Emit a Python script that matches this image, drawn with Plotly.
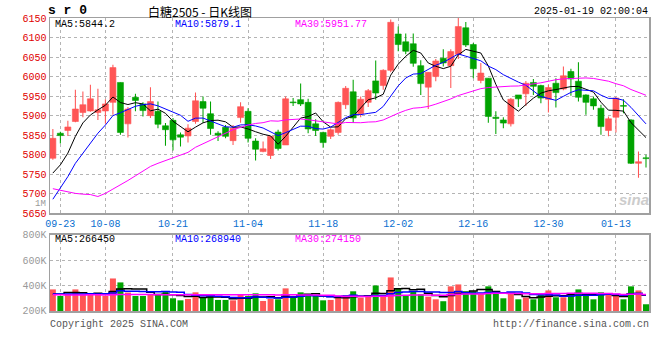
import plotly.graph_objects as go
import pandas as pd

# ---------------- data ----------------
dates = ["09-20", "09-23", "09-24", "09-25", "09-26", "09-27", "09-30",
         "10-08", "10-09", "10-10", "10-11",
         "10-14", "10-15", "10-16", "10-17", "10-18",
         "10-21", "10-22", "10-23", "10-24", "10-25",
         "10-28", "10-29", "10-30", "10-31", "11-01",
         "11-04", "11-05", "11-06", "11-07", "11-08",
         "11-11", "11-12", "11-13", "11-14", "11-15",
         "11-18", "11-19", "11-20", "11-21", "11-22",
         "11-25", "11-26", "11-27", "11-28", "11-29",
         "12-02", "12-03", "12-04", "12-05", "12-06",
         "12-09", "12-10", "12-11", "12-12", "12-13",
         "12-16", "12-17", "12-18", "12-19", "12-20",
         "12-23", "12-24", "12-25", "12-26", "12-27",
         "12-30", "12-31", "01-02", "01-03",
         "01-06", "01-07", "01-08", "01-09", "01-10",
         "01-13", "01-14", "01-15", "01-16", "01-17"]

open_ = [5791, 5855, 5862, 5885, 5908, 5912, 5908, 5912, 5934, 5985,
         5879, 5947, 5930, 5900, 5911, 5874, 5888, 5851, 5848, 5885,
         5936, 5905, 5855, 5870, 5836, 5895, 5911, 5835, 5808, 5798,
         5858, 5825, 5935, 5941, 5934, 5879, 5857, 5847, 5857, 5928,
         5961, 5905, 5934, 5989, 5977, 6016, 6109, 6089, 6084, 6028,
         5973, 6000, 6047, 6028, 6057, 6125, 6082, 5990, 5996, 5896,
         5889, 5879, 5953, 5956, 5985, 5977, 5942, 5983, 5968, 6013,
         5988, 5953, 5943, 5919, 5862, 5896, 5926, 5889, 5778, 5792]
high_ = [5866, 5859, 5887, 5966, 5962, 5979, 5969, 5942, 6030, 5985,
         5922, 5956, 5934, 5973, 5936, 5881, 5894, 5857, 5878, 5959,
         5949, 5936, 5860, 5876, 5876, 5934, 5919, 5842, 5834, 5848,
         5864, 5949, 5945, 5982, 5943, 5891, 5859, 5868, 5936, 5976,
         5992, 5949, 5968, 6041, 6019, 6146, 6128, 6110, 6110, 6042,
         6011, 6045, 6070, 6070, 6150, 6140, 6086, 6035, 5996, 5911,
         5896, 5945, 5953, 5989, 5994, 5979, 5979, 5996, 6026, 6020,
         6037, 5955, 5949, 5928, 5898, 5947, 5942, 5891, 5808, 5800]
low_ = [5787, 5829, 5848, 5883, 5896, 5910, 5889, 5879, 5902, 5851,
        5844, 5911, 5898, 5894, 5868, 5823, 5811, 5821, 5831, 5879,
        5882, 5851, 5835, 5842, 5825, 5882, 5831, 5785, 5806, 5789,
        5811, 5825, 5925, 5925, 5855, 5848, 5818, 5840, 5851, 5917,
        5881, 5896, 5922, 5941, 5966, 6011, 6065, 6057, 6025, 5953,
        5917, 5988, 6026, 5971, 6045, 6076, 5996, 5983, 5882, 5853,
        5868, 5872, 5922, 5925, 5953, 5932, 5908, 5921, 5965, 5951,
        5936, 5902, 5915, 5851, 5847, 5857, 5906, 5776, 5741, 5767]
close_ = [5842, 5849, 5871, 5917, 5928, 5943, 5915, 5930, 6023, 5857,
          5917, 5939, 5913, 5936, 5878, 5864, 5838, 5845, 5868, 5938,
          5919, 5867, 5850, 5847, 5868, 5923, 5842, 5814, 5815, 5847,
          5816, 5943, 5933, 5930, 5866, 5862, 5831, 5864, 5934, 5970,
          5894, 5942, 5964, 5958, 6016, 6139, 6082, 6065, 6034, 5982,
          6011, 6040, 6035, 6064, 6128, 6081, 6020, 6009, 5898, 5893,
          5881, 5942, 5943, 5983, 5975, 5945, 5972, 5959, 6002, 5994,
          5947, 5934, 5925, 5872, 5892, 5945, 5924, 5778, 5782, 5790]

volume = [369000, 317000, 333000, 369000, 325000, 333000, 333000, 317000, 455000, 424000,
          344000, 317000, 317000, 333000, 333000, 354000, 299000, 283000, 294000, 346000,
          307000, 315000, 286000, 286000, 283000, 325000, 317000, 338000, 278000, 294000,
          291000, 377000, 307000, 346000, 330000, 317000, 283000, 286000, 307000, 322000,
          354000, 305000, 309000, 400000, 318000, 463000, 377000, 325000, 351000, 330000,
          312000, 291000, 276000, 393000, 408000, 354000, 354000, 333000, 393000, 333000,
          299000, 333000, 291000, 305000, 291000, 330000, 361000, 307000, 307000, 338000,
          369000, 330000, 291000, 346000, 325000, 317000, 291000, 393000, 361000, 252000]

# moving-average values before enough history is visible
ma5_head = [5753, 5774, 5804, 5847]
ma10_head = [5686, 5714, 5744, 5778, 5804, 5829, 5855, 5876, 5900]
ma30_head = [5713, 5709, 5705, 5701, 5699, 5698, 5693, 5701, 5712, 5722,
             5734, 5746, 5757, 5770, 5778, 5785, 5792, 5798, 5806, 5819,
             5828, 5835, 5845, 5855, 5864, 5870, 5876, 5880, 5882]
vma5_head = [330000, 331000, 344000, 345000]
vma10_head = [333000, 333000, 332000, 333000, 333000, 334000, 333000, 334000, 340000]
vma30_head = [326000, 326000, 325000, 325000, 325000, 326000, 326000, 325000, 327000, 328000,
              328000, 328000, 328000, 328000, 327000, 327000, 327000, 326000, 326000, 326000,
              326000, 326000, 326000, 326000, 326000, 327000, 327000, 327000, 327000]

date_ticks = ["09-23", "10-08", "10-21", "11-04", "11-18", "12-02", "12-16", "12-30", "01-13"]
price_ticks = [5650, 5700, 5750, 5800, 5850, 5900, 5950, 6000, 6050, 6100, 6150]
vol_ticks = [200000, 400000, 600000, 800000]
vol_tick_text = ["200K", "400K", "600K", "800K"]

title_code = "s r 0"
title_text = "白糖2505 - 日K线图"
stamp_text = "2025-01-19 02:00:04"
price_legend = ["MA5:5844.2", "MA10:5879.1", "MA30:5951.77"]
vol_legend = ["MA5:266450", "MA10:268940", "MA30:274150"]

# ---------------- derived ----------------
def with_head(series, n, head):
    s = series.rolling(n).mean()
    s.iloc[:len(head)] = head
    return s.tolist()

cs = pd.Series(close_, dtype=float)
vs = pd.Series(volume, dtype=float)
ma5 = with_head(cs, 5, ma5_head)
ma10 = with_head(cs, 10, ma10_head)
ma30 = with_head(cs, 30, ma30_head)
vma5 = with_head(vs, 5, vma5_head)
vma10 = with_head(vs, 10, vma10_head)
vma30 = with_head(vs, 30, vma30_head)

x = list(range(len(dates)))
RED = "#ff5555"
GREEN = "#00a300"
MONO = "Liberation Mono, DejaVu Sans Mono, monospace"
colors = [RED if c >= o else GREEN for o, c in zip(open_, close_)]
tick_idx = [dates.index(d) for d in date_ticks]

body_base = [min(o, c) for o, c in zip(open_, close_)]
body_len = [abs(c - o) for o, c in zip(open_, close_)]
wick_len = [h - l for h, l in zip(high_, low_)]

fig = go.Figure()
# wicks (high-low) and bodies (open-close) drawn as floating bars
fig.add_trace(go.Bar(x=x, y=wick_len, base=low_, width=0.14,
                     marker=dict(color=colors, line=dict(width=0)),
                     xaxis="x", yaxis="y", showlegend=False, hoverinfo="skip"))
fig.add_trace(go.Bar(x=x, y=body_len, base=body_base, width=0.8,
                     marker=dict(color=colors, line=dict(width=0.6, color=colors)),
                     xaxis="x", yaxis="y", showlegend=False, hoverinfo="skip"))
for vals, col in [(ma5, "#000000"), (ma10, "#0000ff"), (ma30, "#ff00ff")]:
    fig.add_trace(go.Scatter(x=x, y=vals, mode="lines", line=dict(color=col, width=1),
                             xaxis="x", yaxis="y", showlegend=False, hoverinfo="skip"))

fig.add_trace(go.Bar(x=x, y=volume, marker=dict(color=colors, line=dict(width=0)),
                     width=0.8, xaxis="x2", yaxis="y2", showlegend=False, hoverinfo="skip"))
for vals, col in [(vma5, "#000000"), (vma10, "#0000ff"), (vma30, "#ff00ff")]:
    fig.add_trace(go.Scatter(x=x, y=vals, mode="lines", line=dict(color=col, width=1.5, shape="hvh"),
                             xaxis="x2", yaxis="y2", showlegend=False, hoverinfo="skip"))

W, H = 660, 360
L, T = 50, 18          # plot left / top on screen
R = W - 649            # plot right on screen: 649
B = H - 311            # plot bottom on screen: 311
PW, PH = W - L - R, H - T - B


def px(xs):
    return (xs - L) / PW


def py(ys):
    return (H - B - ys) / PH


GRID = "#b4b4b4"
AXL = "#a0a0a0"
common_x = dict(range=[-0.38, 79.4], tickvals=tick_idx, ticktext=date_ticks,
                showgrid=True, gridcolor=GRID, griddash="dot", gridwidth=1,
                showline=True, linecolor=AXL, linewidth=1.5, mirror=True,
                zeroline=False, ticks="", fixedrange=True, automargin=False)

fig.update_layout(
    width=W, height=H, margin=dict(l=L, r=R, t=T, b=B, autoexpand=False),
    paper_bgcolor="white", plot_bgcolor="white", showlegend=False,
    barmode="overlay", hovermode=False,
    xaxis=dict(common_x, domain=[0, 1], anchor="y",
               tickfont=dict(family=MONO, size=10, color="#0a6fd0")),
    yaxis=dict(domain=[py(213.3), 1], range=[5650, 6150], tickvals=price_ticks,
               tickfont=dict(family=MONO, size=10, color="#e00000"),
               showgrid=True, gridcolor=GRID, griddash="dot",
               showline=True, linecolor=AXL, linewidth=1.5, mirror=True,
               zeroline=False, ticks="", automargin=False),
    xaxis2=dict(common_x, domain=[0, 1], anchor="y2", matches="x", showticklabels=False),
    yaxis2=dict(domain=[0, py(234.5)], range=[199000, 801000], tickvals=vol_ticks,
                ticktext=vol_tick_text,
                tickfont=dict(family=MONO, size=10, color="#999999"),
                showgrid=True, gridcolor=GRID, griddash="dot",
                showline=True, linecolor=AXL, linewidth=1.5, mirror=True,
                zeroline=False, ticks="", automargin=False),
)

ann = []


def text(t, xs, ys, color="#000", size=10, xanchor="left", family=MONO):
    ann.append(dict(text=t, x=px(xs), y=py(ys), xref="paper", yref="paper",
                    xanchor=xanchor, yanchor="middle", showarrow=False,
                    font=dict(family=family, size=size, color=color)))


text("<b>" + title_code + "</b>", 46, 10, size=13)
text(title_text, 200, 11, size=12, xanchor="center",
     family="Noto Sans CJK SC, sans-serif")
text(stamp_text, 650, 12, xanchor="right")
for t, xs, col in zip(price_legend, [53, 173, 293], ["#000000", "#0000ff", "#ff00ff"]):
    text(t, xs, 24.5, color=col)
for t, xs, col in zip(vol_legend, [53, 173, 293], ["#000000", "#0000ff", "#ff00ff"]):
    text(t, xs, 239, color=col)
text("1M", 48, 204, color="#999999", size=9, xanchor="right")
text("<b><i>sina</i></b>", 634, 199, color="#cccccc", size=15, xanchor="center",
     family="Liberation Sans, sans-serif")
text("Copyright 2025 SINA.COM", 48, 324, color="#555555")
text("http://finance.sina.com.cn", 651, 324, color="#555555", xanchor="right")
fig.update_layout(annotations=ann)

fig.write_html("out.html",
               config={"displayModeBar": False, "staticPlot": True},
               post_script="document.body.style.margin='0';"
                           "document.body.style.overflow='hidden';")
